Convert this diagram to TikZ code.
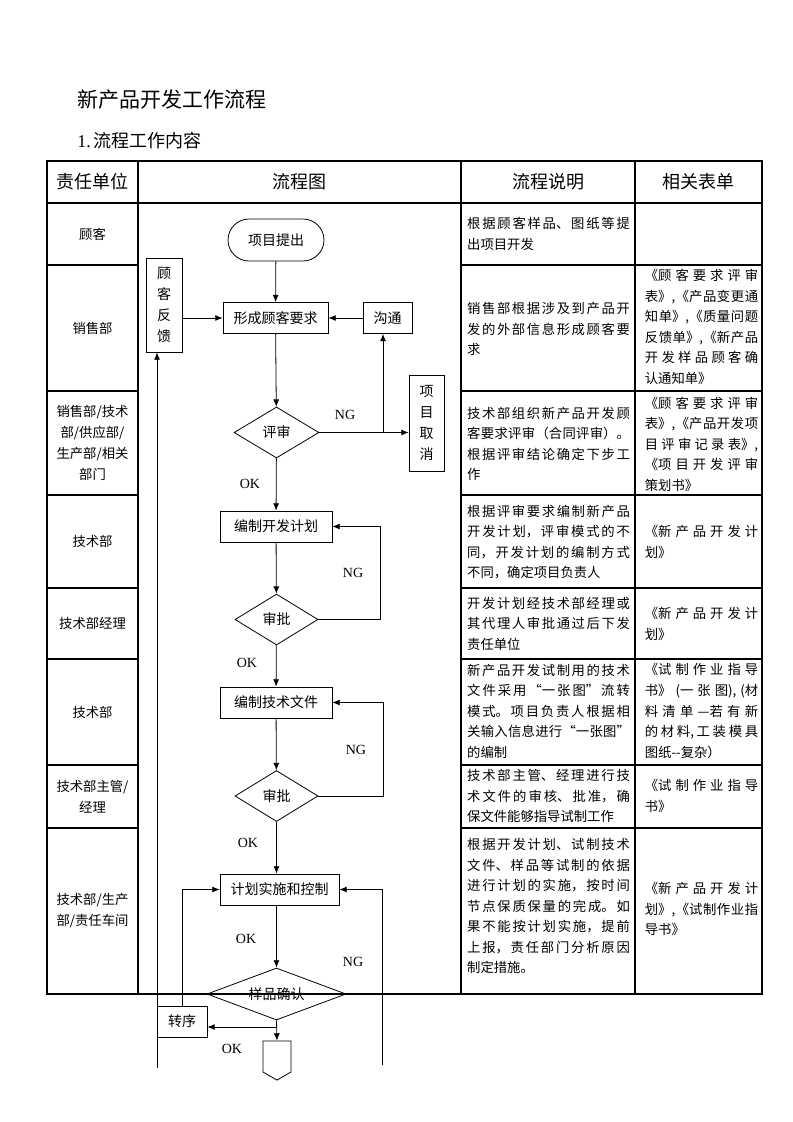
\documentclass[tikz,border=0pt]{standalone}
\usepackage{fontspec}
\setmainfont{Noto Sans CJK SC}
\newfontfamily\latin{Liberation Serif}
\usetikzlibrary{arrows.meta}
\usetikzlibrary{shapes.geometric, shapes.symbols, positioning, calc}
\XeTeXlinebreaklocale "zh"
\XeTeXlinebreakskip=0pt plus 2pt

\begin{document}
\begin{tikzpicture}[x=0.75pt, y=-0.75pt, >={Latex[length=5.5pt,width=4.5pt]},
    grid/.style={line width=0.8pt},
    flow/.style={line width=0.6pt},
    cell/.style={inner sep=0pt, align=center, font=\fontsize{10pt}{15.75pt}\selectfont},
    desc/.style={inner sep=0pt, text width=122pt, align=justify, font=\fontsize{10pt}{15.4pt}\selectfont},
    forms/.style={desc, text width=85pt},
    head/.style={inner sep=0pt, font=\fontsize{13.5pt}{16pt}\selectfont},
    box/.style={draw, flow, inner sep=0pt, minimum height=23.25pt, font=\fontsize{10.5pt}{12pt}\selectfont},
    vbox/.style={box, align=center, font=\fontsize{10.5pt}{15.75pt}\selectfont},
    check/.style={draw, flow, diamond, aspect=2.5, inner sep=0pt, minimum width=62.25pt, minimum height=38.25pt, font=\fontsize{10.5pt}{12pt}\selectfont},
    tag/.style={inner sep=0pt, font=\latin\fontsize{10.5pt}{12pt}\selectfont}]
  \useasboundingbox (0,0) rectangle (793,1122);

  % heading
  \node[anchor=west, inner sep=0pt, font=\fontsize{15.75pt}{18pt}\selectfont] (title) at (77,100) {新产品开发工作流程};
  \node[anchor=west, inner sep=0pt, font=\fontsize{13.5pt}{16pt}\selectfont] (sub) at (77,141) {{\latin 1.}\,流程工作内容};

  % table
  \draw[grid] (47,161) rectangle (762,994);
  \draw[grid] (47,203) -- (762,203);
  \foreach \x in {138,461,635}
    \draw[grid] (\x,161) -- (\x,994);
  \foreach \y in {265,391,495,588,659,765,828} {
    \draw[grid] (47,\y) -- (138,\y);
    \draw[grid] (461,\y) -- (762,\y);
  }

  \node[head] (h1) at (92.5,182) {责任单位};
  \node[head] (h2) at (299.5,182) {流程图};
  \node[head] (h3) at (548,182) {流程说明};
  \node[head] (h4) at (698.5,182) {相关表单};

  % responsible units
  \node[cell] (u1) at (92.5,234) {顾客};
  \node[cell] (u2) at (92.5,328) {销售部};
  \node[cell] (u3) at (92.5,443) {销售部/技术\\部/供应部/\\生产部/相关\\部门};
  \node[cell] (u4) at (92.5,541.5) {技术部};
  \node[cell] (u5) at (92.5,623.5) {技术部经理};
  \node[cell] (u6) at (92.5,712) {技术部};
  \node[cell] (u7) at (92.5,796.5) {技术部主管/\\经理};
  \node[cell] (u8) at (92.5,911) {技术部/生产\\部/责任车间};

  % descriptions
  \node[desc] (d1) at (548.5,234) {根据顾客样品、图纸等提\linebreak 出项目开发};
  \node[desc] (d2) at (548.5,329) {销售部根据涉及到产品开\linebreak 发的外部信息形成顾客要\linebreak 求};
  \node[desc] (d3) at (548.5,444) {技术部组织新产品开发顾\linebreak 客要求评审（合同评审）。\linebreak 根据评审结论确定下步工\linebreak 作};
  \node[desc] (d4) at (548.5,542) {根据评审要求编制新产品\linebreak 开发计划，评审模式的不\linebreak 同，开发计划的编制方式\linebreak 不同，确定项目负责人};
  \node[desc] (d5) at (548.5,623.5) {开发计划经技术部经理或\linebreak 其代理人审批通过后下发\linebreak 责任单位};
  \node[desc] (d6) at (548.5,711) {新产品开发试制用的技术\linebreak 文件采用“一张图”流转\linebreak 模式。项目负责人根据相\linebreak 关输入信息进行“一张图”\linebreak 的编制};
  \node[desc] (d7) at (548.5,796) {技术部主管、经理进行技\linebreak 术文件的审核、批准，确\linebreak 保文件能够指导试制工作};
  \node[desc] (d8) at (548.5,906) {根据开发计划、试制技术\linebreak 文件、样品等试制的依据\linebreak 进行计划的实施，按时间\linebreak 节点保质保量的完成。如\linebreak 果不能按计划实施，提前\linebreak 上报，责任部门分析原因\linebreak 制定措施。};

  % forms
  \node[forms] (f2) at (701.5,327) {《顾客要求评审\linebreak 表》,《产品变更通\linebreak 知单》,《质量问题\linebreak 反馈单》,《新产品\linebreak 开发样品顾客确\linebreak 认通知单》};
  \node[forms] (f3) at (701.5,444) {《顾客要求评审\linebreak 表》,《产品开发项\linebreak 目评审记录表》,\linebreak 《项目开发评审\linebreak 策划书》};
  \node[forms] (f4) at (701.5,542) {《新产品开发计\linebreak 划》};
  \node[forms] (f5) at (701.5,624) {《新产品开发计\linebreak 划》};
  \node[forms] (f6) at (701.5,711) {《试制作业指导\linebreak 书》(一张图),(材\linebreak 料清单—若有新\linebreak 的材料,工装模具\linebreak 图纸{-}{-}复杂）};
  \node[forms] (f7) at (701.5,796) {《试制作业指导\linebreak 书》};
  \node[forms] (f8) at (701.5,909) {《新产品开发计\linebreak 划》,《试制作业指\linebreak 导书》};

  % flow chart
  \node[box, rounded corners=15.75pt, minimum width=72pt, minimum height=31.5pt] (start) at (276,240) {项目提出};
  \node[box, minimum width=78.75pt] (req) at (275.5,318) {形成顾客要求};
  \node[box, minimum width=36.75pt] (comm) at (387.5,318) {沟通};
  \node[vbox, minimum width=27pt, minimum height=70.5pt] (fb) at (164,305) {顾\\客\\反\\馈};
  \node[check, minimum width=63.75pt] (rev) at (276.5,432.5) {评审};
  \node[vbox, minimum width=26.25pt, minimum height=72pt] (cancel) at (426.5,423) {项\\目\\取\\消};
  \node[box, minimum width=84pt] (plan) at (276,526.5) {编制开发计划};
  \node[check] (appr1) at (276.5,619.5) {审批};
  \node[box, minimum width=84pt] (tdoc) at (276,702.5) {编制技术文件};
  \node[check] (appr2) at (276.5,796) {审批};
  \node[box, minimum width=89.25pt] (exec) at (279.5,889.5) {计划实施和控制};
  \node[check, minimum width=104.25pt, minimum height=39pt] (conf) at (276.5,994) {样品确认};
  \node[box, minimum width=37.5pt] (seq) at (182,1021.5) {转序};
  \node[draw, flow, signal, signal from=nowhere, signal to=south, signal pointer angle=120,
        minimum width=21pt, minimum height=23.25pt, inner sep=0pt] (cont) at (277,1056.5) {};

  \draw[flow, ->] (start) -- (req);
  \draw[flow, ->] (req.west -| fb.east) -- (req.west);
  \draw[flow, ->] (comm) -- (req);
  \draw[flow, ->] (req) -- (rev);
  \coordinate (jn) at (383,432.5);
  \draw[flow, ->] (rev.east) -- (rev.east -| cancel.west);
  \draw[flow, ->] (jn) -- (jn |- comm.south);
  \draw[flow, ->] (rev) -- (plan);
  \draw[flow, ->] (plan) -- (appr1);
  \draw[flow, ->] (appr1.east) -- ++(62,0) |- (plan.east);
  \draw[flow, ->] (appr1) -- (tdoc);
  \draw[flow, ->] (tdoc) -- (appr2);
  \draw[flow, ->] (appr2.east) -- ++(65,0) |- (tdoc.east);
  \draw[flow, ->] (appr2.south) -- (appr2.south |- exec.north);
  \draw[flow, ->] (conf.north |- exec.south) -- (conf.north);
  \coordinate (ngr) at (382,1065);
  \draw[flow] (conf.east) -- (conf.east -| ngr);
  \draw[flow, ->] (ngr) |- (exec.east);
  \draw[flow, ->] (conf.south) -- (cont.north);
  \coordinate (br) at (277,1027);
  \draw[flow, ->] (br) -- (br -| seq.east);
  \draw[flow, ->] (seq.north) |- (exec.west);
  \coordinate (fbl) at (157,1068);
  \draw[flow, ->] (fbl) -- (fbl |- fb.south);

  \node[tag] (ng1) at (345,415) {NG};
  \node[tag] (ok1) at (250,484) {OK};
  \node[tag] (ng2) at (353,573) {NG};
  \node[tag] (ok2) at (247,663) {OK};
  \node[tag] (ng3) at (356,750) {NG};
  \node[tag] (ok3) at (248,843) {OK};
  \node[tag] (ok4) at (246,939) {OK};
  \node[tag] (ng4) at (353,962) {NG};
  \node[tag] (ok5) at (232,1049) {OK};
\end{tikzpicture}
\end{document}
